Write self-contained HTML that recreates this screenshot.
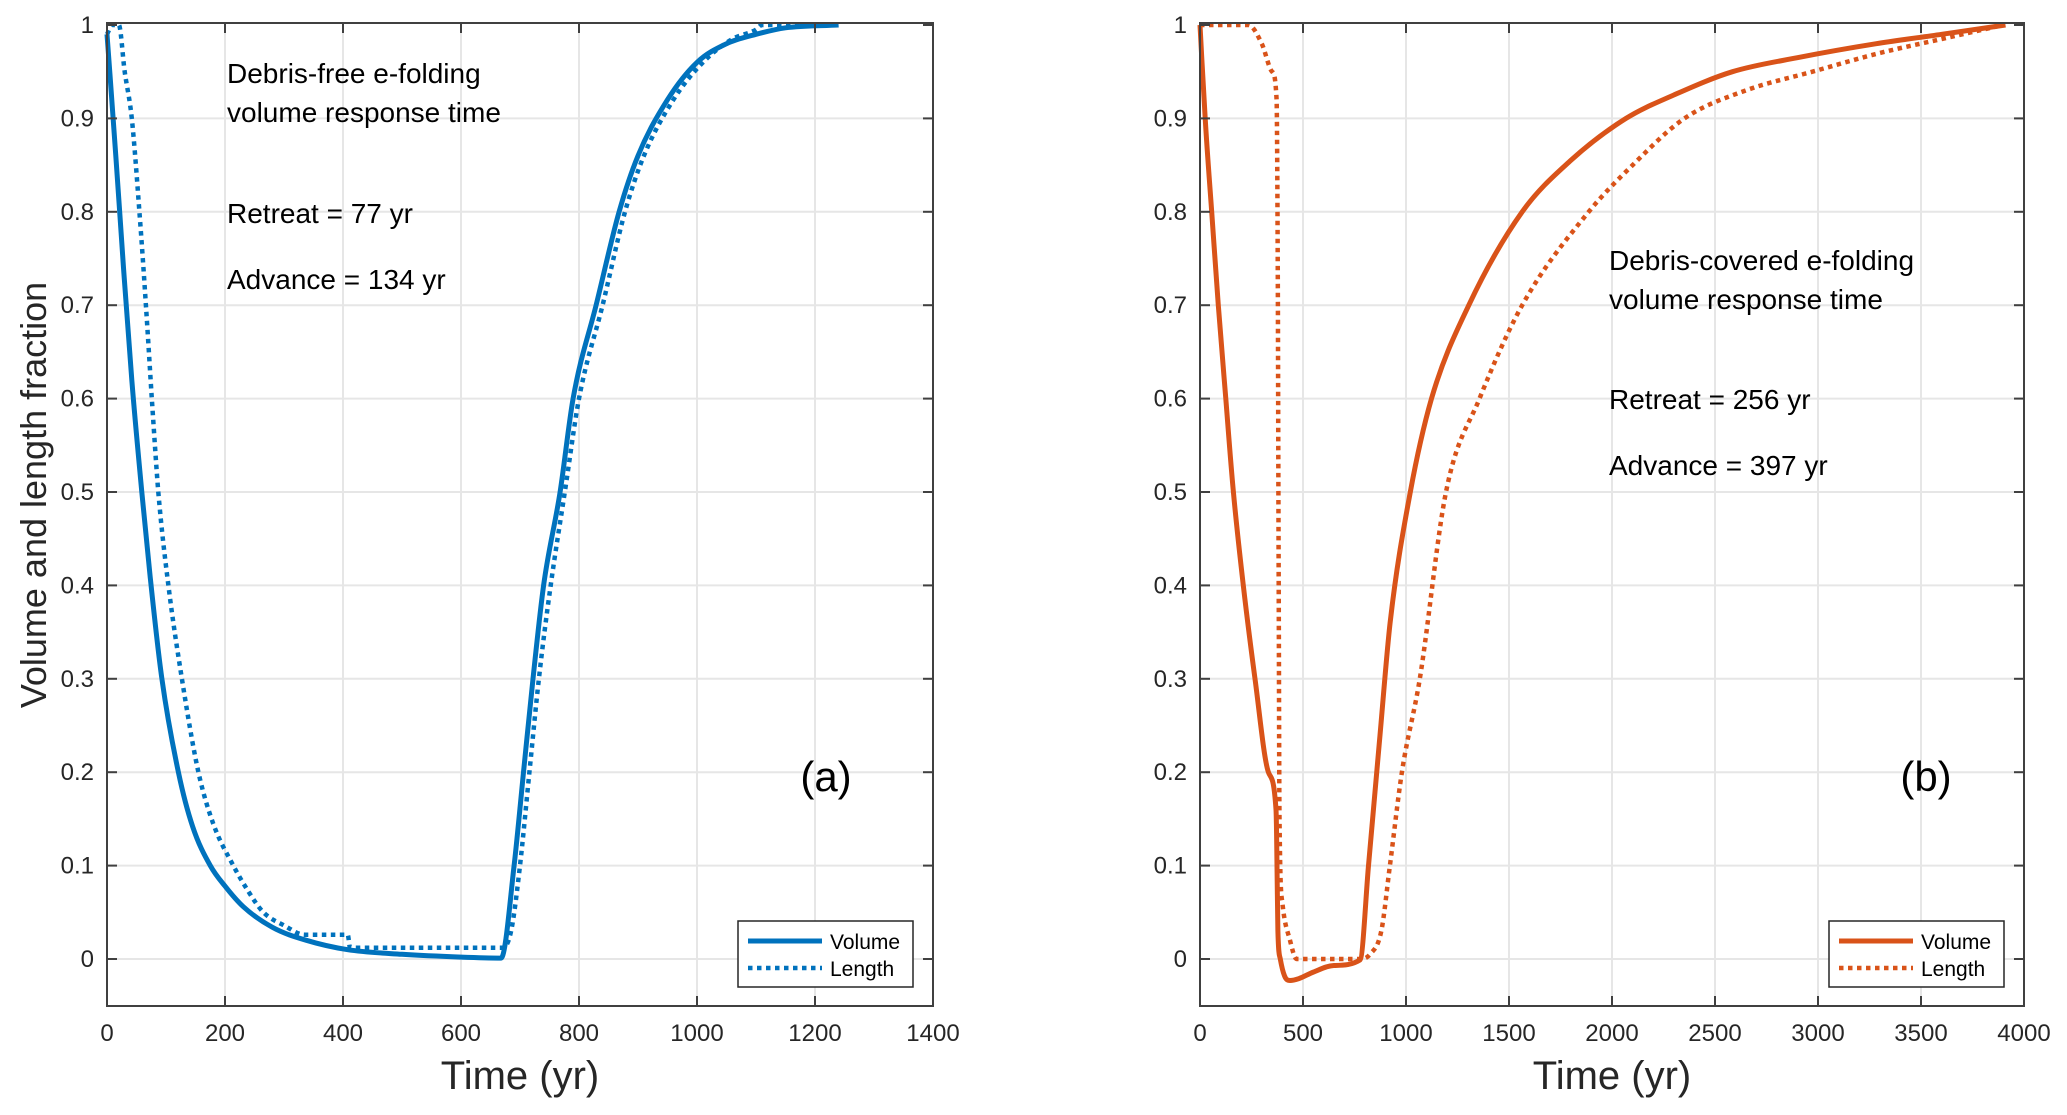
<!DOCTYPE html>
<html><head><meta charset="utf-8">
<style>
html,body{margin:0;padding:0;background:#fff;}
svg{display:block;font-family:"Liberation Sans",Arial,sans-serif;}
</style></head>
<body>
<svg id="chart" width="2067" height="1115" viewBox="0 0 2067 1115" xmlns="http://www.w3.org/2000/svg"></svg>
<script>
// Panel (a) debris-free
const timeVolA = [0,15,28,42,59,73,93,121,145,175,200,231,280,338,408,500,600,668,690,706,722,740,768,790,829,868,900,950,1000,1050,1100,1150,1240];
const volA     = [0.99,0.86,0.74,0.62,0.5,0.41,0.3,0.2,0.142,0.1,0.078,0.056,0.034,0.02,0.01,0.005,0.002,0.001,0.1,0.2,0.3,0.4,0.5,0.6,0.7,0.8,0.86,0.92,0.96,0.98,0.99,0.997,1];
const timeLenA = [0,9,20,30,42,55,66,76,87,104,127,155,180,214,240,265,300,335,408,412,670,685,700,716,732,752,776,800,840,878,910,960,1010,1060,1100,1110,1240];
const lenA     = [0.99,1,1,0.95,0.9,0.8,0.7,0.6,0.5,0.4,0.3,0.2,0.145,0.1,0.072,0.05,0.036,0.026,0.026,0.012,0.012,0.03,0.1,0.2,0.3,0.4,0.5,0.6,0.7,0.8,0.86,0.92,0.96,0.985,0.995,1,1];
// Panel (b) debris-covered
const timeVolB = [0,25,57,89,125,162,210,267,332,369,374,378,390,410,437,480,550,650,777,818,870,923,1021,1124,1305,1564,1800,2068,2300,2585,2900,3283,3600,3910];
const volB     = [1,0.9,0.8,0.7,0.6,0.5,0.4,0.3,0.2,0.16,0.1,0.03,0.0,-0.018,-0.023,-0.021,-0.014,-0.007,-0.001,0.1,0.23,0.36,0.5,0.6,0.7,0.8,0.855,0.9,0.925,0.95,0.965,0.98,0.99,1];
const timeLenB = [0,235,300,350,372,378,382,386,400,437,469,777,825,880,922,980,1067,1194,1357,1564,1887,2100,2352,2650,2973,3300,3600,3900];
const lenB     = [1,1,0.98,0.95,0.92,0.7,0.4,0.15,0.06,0.02,0,0,0.005,0.03,0.1,0.2,0.3,0.5,0.6,0.7,0.8,0.85,0.9,0.93,0.95,0.97,0.985,1];
const yTicks = [0,0.1,0.2,0.3,0.4,0.5,0.6,0.7,0.8,0.9,1];
const xTicksA = [0,200,400,600,800,1000,1200,1400];
const xTicksB = [0,500,1000,1500,2000,2500,3000,3500,4000];

const NS = "http://www.w3.org/2000/svg";
const svg = document.getElementById('chart');
function mk(tag, attrs, parent){const e=document.createElementNS(NS,tag);for(const k in attrs)e.setAttribute(k,attrs[k]);(parent||svg).appendChild(e);return e;}

const Y0=959, Y1=25, YB=1006;
function yScale(v){return Y0-(Y0-Y1)*v;}

function monoPath(X,Y){
  const n=X.length; if(n<2) return '';
  const d=[],m=new Array(n);
  for(let i=0;i<n-1;i++){const h=X[i+1]-X[i]; d.push(h===0?0:(Y[i+1]-Y[i])/h);}
  m[0]=d[0]; m[n-1]=d[n-2];
  for(let i=1;i<n-1;i++){ m[i]=(d[i-1]*d[i]<=0)?0:(d[i-1]+d[i])/2; }
  for(let i=0;i<n-1;i++){
    if(d[i]===0){m[i]=0;m[i+1]=0;continue;}
    const a=m[i]/d[i],b=m[i+1]/d[i],s=a*a+b*b;
    if(s>9){const t=3/Math.sqrt(s);m[i]=t*a*d[i];m[i+1]=t*b*d[i];}
  }
  let p='M'+X[0].toFixed(1)+','+Y[0].toFixed(1);
  for(let i=0;i<n-1;i++){
    const h=(X[i+1]-X[i])/3;
    p+='C'+(X[i]+h).toFixed(1)+','+(Y[i]+m[i]*h).toFixed(1)+' '+(X[i+1]-h).toFixed(1)+','+(Y[i+1]-m[i+1]*h).toFixed(1)+' '+X[i+1].toFixed(1)+','+Y[i+1].toFixed(1);
  }
  return p;
}

function panel(opts){
  const g=mk('g',{});
  
  
  const L=opts.left,R=opts.right,xmax=opts.xmax;
  const xs=t=>L+(R-L)*t/xmax;
  for(const t of opts.xticks){ if(t>0&&t<xmax){const l=mk('line',{x1:xs(t),x2:xs(t),y1:Y1-2,y2:YB,stroke:'#e6e6e6','stroke-width':2},g);
    
    }}
  for(const v of yTicks){ if(v<1){const l=mk('line',{x1:L,x2:R,y1:yScale(v),y2:yScale(v),stroke:'#e6e6e6','stroke-width':2},g);
    
    }}
  const mkPath=(ts,vs,dash,nm)=>{
    const d=monoPath(ts.map(xs),vs.map(yScale));
    const p=mk('path',{d:d,fill:'none',stroke:opts.color,'stroke-width':dash?4.5:5,'stroke-dasharray':dash?'4.5,4.5':'none','stroke-linejoin':'round'},g);
    
    };
  mkPath(opts.tl,opts.vl,true,'length-line');
  mkPath(opts.tv,opts.vv,false,'volume-line');
  const box=mk('rect',{x:L,y:Y1-2,width:R-L,height:YB-Y1+2,fill:'none',stroke:'#404040','stroke-width':2},g);
  
  
  for(const t of opts.xticks){
    mk('line',{x1:xs(t),x2:xs(t),y1:YB,y2:YB-10,stroke:'#404040','stroke-width':2},g);
    mk('line',{x1:xs(t),x2:xs(t),y1:Y1-2,y2:Y1+8,stroke:'#404040','stroke-width':2},g);
    const tx=mk('text',{x:xs(t),y:1041,'font-size':24,'text-anchor':'middle',fill:'#262626'},g);tx.textContent=t;
    
    
  }
  for(const v of yTicks){
    mk('line',{x1:L,x2:L+10,y1:yScale(v),y2:yScale(v),stroke:'#404040','stroke-width':2},g);
    mk('line',{x1:R,x2:R-10,y1:yScale(v),y2:yScale(v),stroke:'#404040','stroke-width':2},g);
    const tx=mk('text',{x:L-13,y:yScale(v)+8,'font-size':24,'text-anchor':'end',fill:'#262626'},g);tx.textContent=String(v);
    
    
  }
  const xt=mk('text',{x:(L+R)/2,y:1089,'font-size':40,'text-anchor':'middle',fill:'#262626'},g);xt.textContent='Time (yr)';
  
  
  opts.notes.forEach(n=>{const t=mk('text',{x:n[0],y:n[1],'font-size':28,fill:'#000'},g);t.textContent=n[2];
    
    });
  const pl=mk('text',{x:opts.labelX,y:791,'font-size':42,'text-anchor':'middle',fill:'#000'},g);pl.textContent=opts.label;
  
  
  const lg=mk('g',{},g);
  
  
  const lx=R-20-175;
  mk('rect',{x:lx,y:921,width:175,height:66,fill:'#fff',stroke:'#262626','stroke-width':1.5},lg);
  mk('line',{x1:lx+10,x2:lx+84,y1:941,y2:941,stroke:opts.color,'stroke-width':5},lg);
  mk('line',{x1:lx+10,x2:lx+84,y1:968,y2:968,stroke:opts.color,'stroke-width':4.5,'stroke-dasharray':'4.5,4.5'},lg);
  const e1=mk('text',{x:lx+92,y:949,'font-size':21,fill:'#000'},lg);e1.textContent='Volume';
  
  
  const e2=mk('text',{x:lx+92,y:976,'font-size':21,fill:'#000'},lg);e2.textContent='Length';
  
  
}

panel({name:'panel-a',left:107,right:933,xmax:1400,xticks:xTicksA,color:'#0072BD',
  tv:timeVolA,vv:volA,tl:timeLenA,vl:lenA,label:'(a)',labelX:826,
  notes:[[227,83,'Debris-free e-folding'],[227,122,'volume response time'],[227,223,'Retreat = 77 yr'],[227,289,'Advance = 134 yr']]});
panel({name:'panel-b',left:1200,right:2024,xmax:4000,xticks:xTicksB,color:'#D95319',
  tv:timeVolB,vv:volB,tl:timeLenB,vl:lenB,label:'(b)',labelX:1926,
  notes:[[1609,270,'Debris-covered e-folding'],[1609,309,'volume response time'],[1609,409,'Retreat = 256 yr'],[1609,475,'Advance = 397 yr']]});

const yl=mk('text',{x:0,y:0,'font-size':36,'text-anchor':'middle',fill:'#262626',transform:'translate(46,495) rotate(-90)'});
yl.textContent='Volume and length fraction';


</script>
</body></html>
